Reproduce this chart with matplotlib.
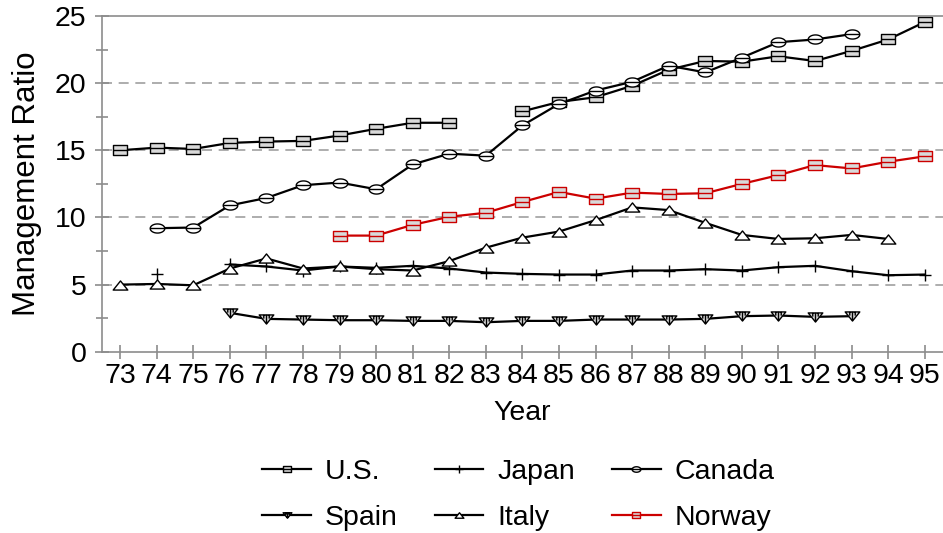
import numpy as np
import matplotlib
matplotlib.use("Agg")
import matplotlib.pyplot as plt
from matplotlib.path import Path
from matplotlib.ticker import MultipleLocator

plt.rcParams['font.family'] = ['Liberation Sans', 'DejaVu Sans']

years = list(range(73, 96))

# values, None = no data that year
us = [15.0, 15.2, 15.1, 15.55, 15.65, 15.7, 16.1, 16.6, 17.05, 17.05, None, 17.9,
      18.6, 18.95, 19.8, 21.0, 21.65, 21.6, 22.0, 21.65, 22.4, 23.25, 24.55]
japan = [None, 5.8, None, 6.5, 6.35, 6.05, 6.35, 6.25, 6.4, 6.2, 5.9, 5.8,
         5.75, 5.75, 6.05, 6.05, 6.15, 6.05, 6.3, 6.4, 6.0, 5.7, 5.75]
canada = [None, 9.2, 9.25, 10.9, 11.45, 12.4, 12.6, 12.1, 13.95, 14.75, 14.6, 16.85,
          18.45, 19.45, 20.1, 21.3, 20.8, 21.9, 23.05, 23.25, 23.65, None, None]
spain = [None, None, None, 2.9, 2.45, 2.4, 2.35, 2.35, 2.3, 2.3, 2.2, 2.3,
         2.3, 2.4, 2.4, 2.4, 2.45, 2.65, 2.7, 2.6, 2.65, None, None]
italy = [5.0, 5.05, 4.95, 6.2, 6.95, 6.2, 6.35, 6.15, 6.05, 6.75, 7.75, 8.5,
         8.95, 9.8, 10.75, 10.55, 9.6, 8.7, 8.4, 8.45, 8.7, 8.4, None]
norway = [None, None, None, None, None, None, 8.65, 8.65, 9.45, 10.05, 10.35, 11.15,
          11.9, 11.4, 11.85, 11.75, 11.8, 12.5, 13.15, 13.9, 13.65, 14.15, 14.55]


def to_arr(vals):
    return np.array([np.nan if v is None else v for v in vals], dtype=float)


# custom Excel-like markers
def rect_marker():
    verts = [(-0.8, -0.5), (0.8, -0.5), (0.8, 0.5), (-0.8, 0.5), (-0.8, -0.5),
             (-0.8, 0.0), (0.8, 0.0)]
    codes = [Path.MOVETO, Path.LINETO, Path.LINETO, Path.LINETO, Path.CLOSEPOLY,
             Path.MOVETO, Path.LINETO]
    return Path(verts, codes)


def ellipse_marker():
    t = np.linspace(0, 2 * np.pi, 40)
    verts = list(zip(0.8 * np.cos(t), 0.5 * np.sin(t)))
    verts += [(-0.8, 0.0), (0.8, 0.0)]
    codes = [Path.MOVETO] + [Path.LINETO] * 38 + [Path.CLOSEPOLY, Path.MOVETO, Path.LINETO]
    return Path(verts, codes)


def tri_marker(up=True):
    s = 1 if up else -1
    verts = [(-0.8, -0.5 * s), (0.8, -0.5 * s), (0.0, 0.5 * s), (-0.8, -0.5 * s)]
    codes = [Path.MOVETO, Path.LINETO, Path.LINETO, Path.CLOSEPOLY]
    if not up:
        verts += [(-0.3, 0.5), (-0.3, 0.1), (0.0, 0.5), (0.0, -0.4), (0.3, 0.5), (0.3, 0.1)]
        codes += [Path.MOVETO, Path.LINETO] * 3
    return Path(verts, codes)


fig = plt.figure(figsize=(9.43, 5.33), dpi=100)
ax = fig.add_axes([0.108, 0.34, 0.892, 0.63])

grey = '#8c8c8c'
ms = 10.5
series = [
    ('U.S.', us, 'black', rect_marker(), '#d9d9d9'),
    ('Japan', japan, 'black', '+', 'black'),
    ('Canada', canada, 'black', ellipse_marker(), 'white'),
    ('Spain', spain, 'black', tri_marker(False), '#d9d9d9'),
    ('Italy', italy, 'black', tri_marker(True), 'white'),
    ('Norway', norway, '#cc0000', rect_marker(), '#d9d9d9'),
]

lines = {}
for name, vals, col, mk, fc in series:
    size = 9 if mk == '+' else ms
    ln, = ax.plot(years, to_arr(vals), color=col, lw=1.6, marker=mk, markersize=size,
                  markerfacecolor=fc, markeredgecolor=col, markeredgewidth=1.0, label=name)
    lines[name] = ln

ax.set_xlim(72.5, 95.5)
ax.set_ylim(0, 25)
ax.set_xticks(years)
ax.set_xticklabels([str(y) for y in years])
ax.yaxis.set_major_locator(MultipleLocator(5))
ax.yaxis.set_minor_locator(MultipleLocator(2.5))

for y in [5, 10, 15, 20]:
    ax.axhline(y, color='#a0a0a0', lw=1.2, ls=(0, (6, 4)), zorder=0)

for side in ['left', 'bottom', 'top']:
    ax.spines[side].set_color(grey)
    ax.spines[side].set_linewidth(1.2)
ax.spines['right'].set_visible(False)

fs = 20.5
ax.tick_params(axis='x', direction='inout', length=10, width=1.2, color=grey,
               labelsize=fs, pad=3)
ax.tick_params(axis='y', which='major', direction='inout', length=10, width=1.2,
               color=grey, labelsize=fs, pad=6)
ax.tick_params(axis='y', which='minor', direction='inout', length=8, width=1.2, color=grey)

ax.set_xlabel('Year', fontsize=fs, labelpad=8)
ax.set_ylabel('Management Ratio', fontsize=22.5, labelpad=9)

# Excel fills the legend row by row
order = ['U.S.', 'Spain', 'Japan', 'Italy', 'Canada', 'Norway']
fig.legend([lines[n] for n in order], order, loc='center', bbox_to_anchor=(0.55, 0.072),
           ncol=3, frameon=False, fontsize=fs, handlelength=1.7, handletextpad=0.5,
           columnspacing=1.3, labelspacing=0.7, markerscale=0.6)

fig.savefig('out.png', dpi=100)
